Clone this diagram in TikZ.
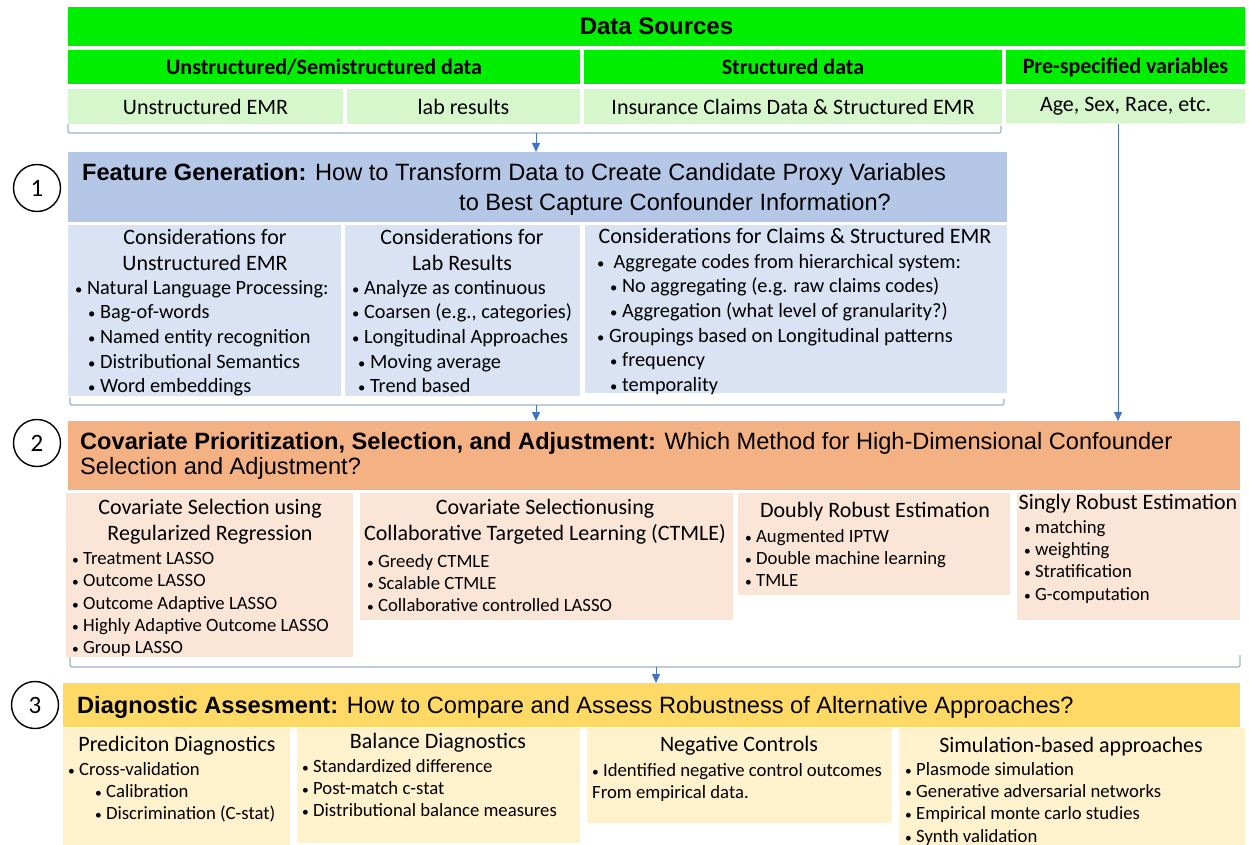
\documentclass[tikz,border=0pt]{standalone}
\usepackage{fontspec}
\usepackage{graphicx}
\setmainfont{Carlito}
\newfontfamily\arialfont{Liberation Sans}
\usetikzlibrary{arrows.meta,positioning}
\definecolor{srcgreen}{HTML}{00EE00}
\definecolor{srclight}{HTML}{D6F7CB}
\definecolor{featblue}{HTML}{B4C7E7}
\definecolor{featlight}{HTML}{DAE3F3}
\definecolor{covorange}{HTML}{F4B183}
\definecolor{covlight}{HTML}{FBE5D6}
\definecolor{diagyellow}{HTML}{FFD966}
\definecolor{diaglight}{HTML}{FFF2CC}
\definecolor{brkgray}{HTML}{9DB0C8}
\definecolor{arrblue}{HTML}{4472C4}

% small list bullet
\newcommand{\itm}{\scalebox{0.72}{•}\ }

\tikzset{
  cell/.style={anchor=north west,inner sep=0pt,outer sep=0pt},
  srctxt/.style={font=\bfseries\fontsize{22}{26}\selectfont},
  hdr/.style={anchor=north,inner sep=0pt,align=center,font=\fontsize{22}{25.5}\selectfont},
  lst/.style={anchor=north west,inner sep=0pt,align=left,font=\fontsize{20.3}{24.6}\selectfont},
  lstsm/.style={anchor=north west,inner sep=0pt,align=left,font=\fontsize{18.7}{22.4}\selectfont},
  ttl/.style={anchor=base west,inner sep=0pt,font=\arialfont\fontsize{23.6}{26}\selectfont},
  num/.style={circle,draw,line width=1.4pt,minimum size=47pt,inner sep=0pt,font=\fontsize{25}{28}\selectfont},
  brk/.style={brkgray,line width=1.2pt,rounded corners=2pt},
  arr/.style={arrblue,line width=0.9pt,-{Triangle[length=9pt,width=8pt]}}
}

\begin{document}
\begin{tikzpicture}[x=1pt,y=-1pt]
  \useasboundingbox (0,0) rectangle (1249,845);

  % ---- Data sources ------------------------------------------
  \node[cell,fill=srcgreen,minimum width=1177pt,minimum height=39pt] (srcall) at (68,7)
    {\arialfont\bfseries\fontsize{24}{28}\selectfont Data Sources};
  \node[cell,srctxt,fill=srcgreen,minimum width=512pt,minimum height=34pt] (srcunst) at (68,50)
    {Unstructured/Semistructured data};
  \node[cell,srctxt,fill=srcgreen,minimum width=418pt,minimum height=34pt] (srcstr) at (584,50)
    {Structured data};
  \node[cell,srctxt,fill=srcgreen,minimum width=239pt,minimum height=34pt] (srcpre) at (1006,50)
    {Pre-specified variables};

  \node[cell,fill=srclight,minimum width=275pt,minimum height=35pt,font=\fontsize{22}{26}\selectfont] (cellemr) at (68,89)
    {Unstructured EMR};
  \node[cell,fill=srclight,minimum width=233pt,minimum height=35pt,font=\fontsize{22}{26}\selectfont] (celllab) at (347,89)
    {lab results};
  \node[cell,fill=srclight,minimum width=418pt,minimum height=35pt,font=\fontsize{22}{26}\selectfont] (cellclaims) at (584,89)
    {Insurance Claims Data \& Structured EMR};
  \node[cell,fill=srclight,minimum width=239pt,minimum height=34pt,font=\fontsize{22}{26}\selectfont] (cellpre) at (1006,89)
    {Age, Sex, Race, etc.};

  % bracket under the data cells
  \coordinate (b1l) at (68,124);
  \coordinate (b1m) at (536,133);
  \coordinate (b1r) at (1001,126);
  \draw[brk] (b1l) |- (b1m) -| (b1r);

  % ---- 1: Feature generation ---------------------------------
  \node[num] (n1) at (37,188) {1};
  \node[cell,fill=featblue,minimum width=939pt,minimum height=70pt] (featgen) at (68,152) {};
  \node[ttl] (featttl) at (82,181)
    {\bfseries Feature Generation: \mdseries How to Transform Data to Create Candidate Proxy Variables};
  \node[ttl] (featttlb) at (459,211) {to Best Capture Confounder Information?};

  \node[cell,fill=featlight,minimum width=273pt,minimum height=171pt] (featemr) at (68,225) {};
  \node[cell,fill=featlight,minimum width=235pt,minimum height=171pt] (featlab) at (345,225) {};
  \node[cell,fill=featlight,minimum width=422pt,minimum height=168pt] (featclaims) at (585,225) {};

  \node[hdr] (featemrh) at (205,229.5) {Considerations for\\Unstructured EMR};
  \node[lst] (featemrl) at (75,280)
    {\itm Natural Language Processing:\\
     \hspace*{13pt}\itm Bag-of-words\\
     \hspace*{13pt}\itm Named entity recognition\\
     \hspace*{13pt}\itm Distributional Semantics\\
     \hspace*{13pt}\itm Word embeddings};

  \node[hdr] (featlabh) at (462,229.5) {Considerations for\\Lab Results};
  \node[lst] (featlabl) at (352,280)
    {\itm Analyze as continuous\\
     \itm Coarsen (e.g., categories)\\
     \itm Longitudinal Approaches\\
     \hspace*{6pt}\itm Moving average\\
     \hspace*{6pt}\itm Trend based};

  \node[hdr] (featclaimsh) at (795,228.5) {Considerations for Claims \& Structured EMR};
  \node[lst] (featclaimsl) at (597,254)
    {\itm\ Aggregate codes from hierarchical system:\\
     \hspace*{13pt}\itm No aggregating (e.g. raw claims codes)\\
     \hspace*{13pt}\itm Aggregation (what level of granularity?)\\
     \itm Groupings based on Longitudinal patterns\\
     \hspace*{13pt}\itm frequency\\
     \hspace*{13pt}\itm temporality};

  % bracket under the considerations
  \coordinate (b2l) at (70,397);
  \coordinate (b2m) at (536,405);
  \coordinate (b2r) at (1004,399);
  \draw[brk] (b2l) |- (b2m) -| (b2r);

  % ---- 2: Covariate prioritization ---------------------------
  \node[num] (n2) at (37,443) {2};
  \node[cell,fill=covorange,minimum width=1172pt,minimum height=69pt] (covsel) at (68,421) {};
  \node[ttl] (covttl) at (80,449)
    {\bfseries Covariate Prioritization, Selection, and Adjustment: \mdseries Which Method for High-Dimensional Confounder};
  \node[ttl] (covttlb) at (80,474) {Selection and Adjustment?};

  \node[cell,fill=covlight,minimum width=287pt,minimum height=164pt] (covreg) at (66,493) {};
  \node[cell,fill=covlight,minimum width=373pt,minimum height=127pt] (covctmle) at (360,493) {};
  \node[cell,fill=covlight,minimum width=272pt,minimum height=102pt] (covdr) at (738,493) {};
  \node[cell,fill=covlight,minimum width=223pt,minimum height=127pt] (covsr) at (1017,493) {};

  \node[hdr] (covregh) at (210,499.5) {Covariate Selection using\\Regularized Regression};
  \node[lstsm] (covregl) at (72,552)
    {\itm Treatment LASSO\\
     \itm Outcome LASSO\\
     \itm Outcome Adaptive LASSO\\
     \itm Highly Adaptive Outcome LASSO\\
     \itm Group LASSO};

  \node[hdr] (covctmleh) at (545,499.5) {Covariate Selectionusing\\Collaborative Targeted Learning (CTMLE)};
  \node[lstsm] (covctmlel) at (367,554)
    {\itm Greedy CTMLE\\
     \itm Scalable CTMLE\\
     \itm Collaborative controlled LASSO};

  \node[hdr] (covdrh) at (875,502.5) {Doubly Robust Estimation};
  \node[lstsm] (covdrl) at (745,529)
    {\itm Augmented IPTW\\
     \itm Double machine learning\\
     \itm TMLE};

  \node[hdr] (covsrh) at (1128,494.5) {Singly Robust Estimation};
  \node[lstsm] (covsrl) at (1024,520)
    {\itm matching\\
     \itm weighting\\
     \itm Stratification\\
     \itm G-computation};

  % bracket under the estimation methods
  \coordinate (b3l) at (70,657);
  \coordinate (b3m) at (656,667);
  \coordinate (b3r) at (1240,655);
  \draw[brk] (b3l) |- (b3m) -| (b3r);

  % ---- 3: Diagnostic assessment ------------------------------
  \node[num] (n3) at (35,705) {3};
  \node[cell,fill=diagyellow,minimum width=1177pt,minimum height=44pt] (diag) at (63,683) {};
  \node[ttl] (diagttl) at (77,713)
    {\bfseries Diagnostic Assesment: \mdseries How to Compare and Assess Robustness of Alternative Approaches?};

  \node[cell,fill=diaglight,minimum width=227pt,minimum height=117pt] (diagpred) at (63,728) {};
  \node[cell,fill=diaglight,minimum width=283pt,minimum height=115pt] (diagbal) at (297,728) {};
  \node[cell,fill=diaglight,minimum width=305pt,minimum height=95pt] (diagneg) at (587,728) {};
  \node[cell,fill=diaglight,minimum width=346pt,minimum height=117pt] (diagsim) at (899,728) {};

  \node[hdr] (diagpredh) at (177,736.5) {Prediciton Diagnostics};
  \node[lstsm] (diagpredl) at (68,762)
    {\itm Cross-validation\\
     \hspace*{27pt}\itm Calibration\\
     \hspace*{27pt}\itm Discrimination (C-stat)};

  \node[hdr] (diagbalh) at (438,733.5) {Balance Diagnostics};
  \node[lstsm] (diagball) at (302,759)
    {\itm Standardized difference\\
     \itm Post-match c-stat\\
     \itm Distributional balance measures};

  \node[hdr] (diagnegh) at (739,736.5) {Negative Controls};
  \node[lstsm] (diagnegl) at (592,763)
    {\itm Identified negative control outcomes\\
     From empirical data.};

  \node[hdr] (diagsimh) at (1071,737.5) {Simulation-based approaches};
  \node[lstsm] (diagsiml) at (905,762)
    {\itm Plasmode simulation\\
     \itm Generative adversarial networks\\
     \itm Empirical monte carlo studies\\
     \itm Synth validation};

  % ---- Arrows ------------------------------------------------
  \coordinate (prel) at (1118,124);
  \draw[arr] (b1m) -- (b1m |- featgen.north);
  \draw[arr] (b2m) -- (b2m |- covsel.north);
  \draw[arr] (b3m) -- (b3m |- diag.north);
  \draw[arr] (prel) -- (prel |- covsel.north);

\end{tikzpicture}
\end{document}
